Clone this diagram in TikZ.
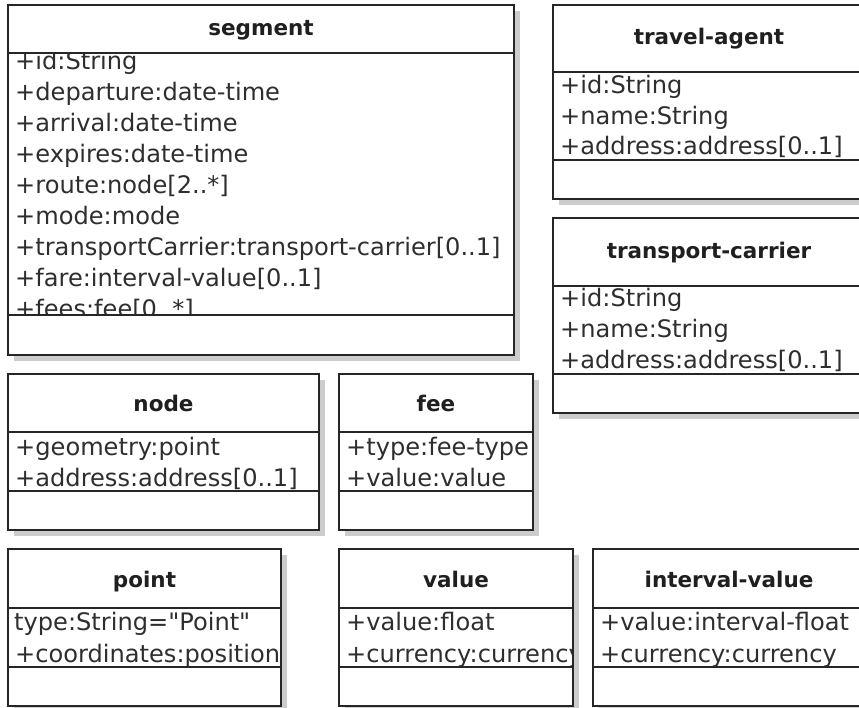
\documentclass[tikz,border=0pt]{standalone}
\usepackage{fontspec}
\newfontfamily\umlfont{DejaVu Sans}

\begin{document}
\begin{tikzpicture}[x=1pt,y=-1pt,
	box/.style={draw=black!85, line width=1.8pt, fill=white},
	shade/.style={fill=black!20},
	rule/.style={draw=black!85, line width=1.8pt},
	title/.style={anchor=base, inner sep=0pt, font=\umlfont\fontsize{21.5}{26}\selectfont\bfseries, text=black!88},
	attr/.style={anchor=base west, inner sep=0pt, font=\umlfont\fontsize{24.1}{28}\selectfont, text=black!82}]
		\useasboundingbox (0,0) rectangle (859,708);
		\clip (0,0) rectangle (859,708);

		% segment
		\fill[shade] (14,11) rectangle (520,361);
		\draw[box] (8,5) rectangle (514,355);
		\draw (261,36) node[title] (segment) {segment};
		\begin{scope}
			\clip (8,53) rectangle (514,315);
			\draw (15,70) node[attr] (segId) {+id:String};
			\draw (15,101) node[attr] (segDep) {+departure:date-time};
			\draw (15,132) node[attr] (segArr) {+arrival:date-time};
			\draw (15,163) node[attr] (segExp) {+expires:date-time};
			\draw (15,194) node[attr] (segRoute) {+route:node[2..*]};
			\draw (15,225) node[attr] (segMode) {+mode:mode};
			\draw (15,256) node[attr] (segCarrier) {+transportCarrier:transport-carrier[0..1]};
			\draw (15,287) node[attr] (segFare) {+fare:interval-value[0..1]};
			\draw (15,318) node[attr] (segFees) {+fees:fee[0..*]};
		\end{scope}
		\draw[rule] (8,53) -- (514,53);
		\draw[rule] (8,315) -- (514,315);

		% travel-agent
		\fill[shade] (559,11) rectangle (871,205);
		\draw[box] (553,5) rectangle (865,199);
		\draw (709,45) node[title] (agent) {travel-agent};
		\draw (560,94) node[attr] (agentId) {+id:String};
		\draw (560,124.5) node[attr] (agentName) {+name:String};
		\draw (560,155) node[attr] (agentAddr) {+address:address[0..1]};
		\draw[rule] (553,72) -- (865,72);
		\draw[rule] (553,160) -- (865,160);

		% transport-carrier
		\fill[shade] (559,224) rectangle (871,419);
		\draw[box] (553,218) rectangle (865,413);
		\draw (709,259) node[title] (carrier) {transport-carrier};
		\draw (560,307) node[attr] (carrierId) {+id:String};
		\draw (560,337.5) node[attr] (carrierName) {+name:String};
		\draw (560,368) node[attr] (carrierAddr) {+address:address[0..1]};
		\draw[rule] (553,286) -- (865,286);
		\draw[rule] (553,374) -- (865,374);

		% node
		\fill[shade] (14,380) rectangle (325,536);
		\draw[box] (8,374) rectangle (319,530);
		\draw (163.5,411) node[title] (node) {node};
		\draw (15,455) node[attr] (nodeGeom) {+geometry:point};
		\draw (15,486) node[attr] (nodeAddr) {+address:address[0..1]};
		\draw[rule] (8,432) -- (319,432);
		\draw[rule] (8,491) -- (319,491);

		% fee
		\fill[shade] (345,380) rectangle (539,536);
		\draw[box] (339,374) rectangle (533,530);
		\draw (436,411) node[title] (fee) {fee};
		\begin{scope}
			\clip (339,432) rectangle (533,491);
			\draw (346,455) node[attr] (feeType) {+type:fee-type};
			\draw (346,486) node[attr] (feeValue) {+value:value};
		\end{scope}
		\draw[rule] (339,432) -- (533,432);
		\draw[rule] (339,491) -- (533,491);
		\draw[rule] (533,374) -- (533,530);

		% point
		\fill[shade] (287,555) rectangle (14,712);
		\draw[box] (8,549) rectangle (281,706);
		\draw (144.5,587) node[title] (point) {point};
		\begin{scope}
			\clip (8,608) rectangle (281,667);
			\draw (14,630) node[attr] (pointType) {type:String="Point"};
			\draw (15,662) node[attr] (pointCoords) {+coordinates:position};
		\end{scope}
		\draw[rule] (8,608) -- (281,608);
		\draw[rule] (8,667) -- (281,667);
		\draw[rule] (281,549) -- (281,706);

		% value
		\fill[shade] (345,555) rectangle (579,712);
		\draw[box] (339,549) rectangle (573,706);
		\draw (456,587) node[title] (value) {value};
		\begin{scope}
			\clip (339,608) rectangle (573,667);
			\draw (346,630) node[attr] (valueFloat) {+value:float};
			\draw (346,662) node[attr] (valueCurr) {+currency:currency};
		\end{scope}
		\draw[rule] (339,608) -- (573,608);
		\draw[rule] (339,667) -- (573,667);
		\draw[rule] (573,549) -- (573,706);

		% interval-value
		\fill[shade] (599,555) rectangle (871,712);
		\draw[box] (593,549) rectangle (865,706);
		\draw (729,587) node[title] (interval) {interval-value};
		\draw (600,630) node[attr] (intervalValue) {+value:interval-float};
		\draw (600,662) node[attr] (intervalCurr) {+currency:currency};
		\draw[rule] (593,608) -- (865,608);
		\draw[rule] (593,667) -- (865,667);
	\end{tikzpicture}
\end{document}
